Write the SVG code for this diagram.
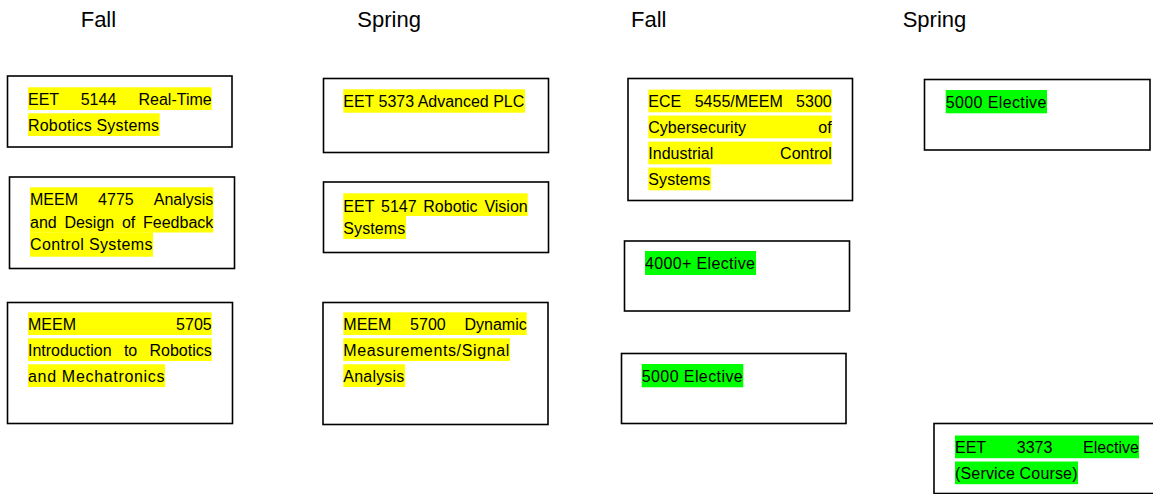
<svg xmlns="http://www.w3.org/2000/svg" width="1153" height="494" viewBox="0 0 1153 494">
<style>
.box{fill:#fff;stroke:#000;stroke-width:1.6}
.t{font-family:"Liberation Sans",Arial,sans-serif;font-size:16px;fill:#000}
.h{font-family:"Liberation Sans",Arial,sans-serif;font-size:22px;fill:#000}
.e{text-anchor:end}
.m{text-anchor:middle}
.y{fill:#ffff00}
.g{fill:#00ff00}
</style>
<rect width="1153" height="494" fill="#fff"/>
<g id="headers">
<text class="h" x="80.7" y="27.3">Fall</text>
<text class="h" x="357.3" y="27.3">Spring</text>
<text class="h" x="631" y="27.3">Fall</text>
<text class="h" x="902.7" y="27.3">Spring</text>
</g>
<g id="connectors"></g>
<g id="eet5144">
<rect class="box" x="7.5" y="76" width="224.5" height="71"/>
<rect class="y" x="28" y="87.3" width="183.7" height="22.7"/>
<rect class="y" x="28" y="113.3" width="131.7" height="22.7"/>
<text class="t" x="28" y="105">EET</text>
<text class="t m" x="98.5" y="105">5144</text>
<text class="t e" x="211.7" y="105">Real-Time</text>
<text class="t" x="28" y="131" textLength="131" lengthAdjust="spacing">Robotics Systems</text>
</g>
<g id="meem4775">
<rect class="box" x="9.5" y="177" width="225" height="91.5"/>
<rect class="y" x="30" y="187.3" width="183.3" height="22.7"/>
<rect class="y" x="30" y="209.8" width="183.3" height="22.7"/>
<rect class="y" x="30" y="232.3" width="123" height="24.4"/>
<text class="t" x="30" y="205">MEEM</text>
<text class="t m" x="115.9" y="205">4775</text>
<text class="t e" x="213.3" y="205">Analysis</text>
<text class="t" x="30" y="227.5">and</text>
<text class="t" x="64.4" y="227.5">Design</text>
<text class="t" x="121.9" y="227.5">of</text>
<text class="t e" x="213.3" y="227.5">Feedback</text>
<text class="t" x="30" y="250" textLength="122.5" lengthAdjust="spacing">Control Systems</text>
</g>
<g id="meem5705">
<rect class="box" x="7.5" y="302.5" width="225" height="121"/>
<rect class="y" x="28" y="312.3" width="183.7" height="22.7"/>
<rect class="y" x="28" y="338.3" width="183.7" height="22.7"/>
<rect class="y" x="28" y="364.3" width="137" height="22.7"/>
<text class="t" x="28" y="330">MEEM</text>
<text class="t e" x="211.7" y="330">5705</text>
<text class="t" x="28" y="356">Introduction</text>
<text class="t" x="123.9" y="356">to</text>
<text class="t e" x="211.7" y="356">Robotics</text>
<text class="t" x="28" y="382" textLength="136.5" lengthAdjust="spacing">and Mechatronics</text>
</g>
<g id="eet5373">
<rect class="box" x="323.5" y="78.5" width="225" height="74"/>
<rect class="y" x="343.3" y="89.3" width="181.7" height="23.4"/>
<text class="t" x="343.3" y="107.3" textLength="181" lengthAdjust="spacing">EET 5373 Advanced PLC</text>
</g>
<g id="eet5147">
<rect class="box" x="323.5" y="182" width="225" height="70.5"/>
<rect class="y" x="343.3" y="193.3" width="184.4" height="22.7"/>
<rect class="y" x="343.3" y="216" width="62.7" height="23"/>
<text class="t" x="343.3" y="211.7">EET</text>
<text class="t" x="381" y="211.7">5147</text>
<text class="t" x="423.3" y="211.7">Robotic</text>
<text class="t e" x="527.7" y="211.7">Vision</text>
<text class="t" x="343.3" y="234" textLength="62" lengthAdjust="spacing">Systems</text>
</g>
<g id="meem5700">
<rect class="box" x="323" y="302.5" width="225" height="122"/>
<rect class="y" x="343.3" y="312.3" width="183.4" height="22.7"/>
<rect class="y" x="343.3" y="338.3" width="166.7" height="22.7"/>
<rect class="y" x="343.3" y="364.3" width="61.7" height="22.7"/>
<text class="t" x="343.3" y="330">MEEM</text>
<text class="t m" x="427.9" y="330">5700</text>
<text class="t e" x="526.7" y="330">Dynamic</text>
<text class="t" x="343.3" y="356" textLength="166" lengthAdjust="spacing">Measurements/Signal</text>
<text class="t" x="343.3" y="382" textLength="61" lengthAdjust="spacing">Analysis</text>
</g>
<g id="ece5455">
<rect class="box" x="628" y="78.5" width="224.5" height="122"/>
<rect class="y" x="648.3" y="89.6" width="183.4" height="22.7"/>
<rect class="y" x="648.3" y="115.6" width="183.4" height="22.7"/>
<rect class="y" x="648.3" y="141.6" width="183.4" height="22.7"/>
<rect class="y" x="648.3" y="167.6" width="62.7" height="22.7"/>
<text class="t" x="648.3" y="107.3">ECE</text>
<text class="t" x="694.7" y="107.3">5455/MEEM</text>
<text class="t e" x="831.7" y="107.3">5300</text>
<text class="t" x="648.3" y="133.3">Cybersecurity</text>
<text class="t e" x="831.7" y="133.3">of</text>
<text class="t" x="648.3" y="159.3">Industrial</text>
<text class="t e" x="831.7" y="159.3">Control</text>
<text class="t" x="648.3" y="185.3" textLength="62" lengthAdjust="spacing">Systems</text>
</g>
<g id="elective4000">
<rect class="box" x="624.5" y="241" width="225" height="70"/>
<rect class="g" x="645" y="251" width="111" height="24"/>
<text class="t" x="645" y="269" textLength="110" lengthAdjust="spacing">4000+ Elective</text>
</g>
<g id="elective5000a">
<rect class="box" x="621.5" y="353.5" width="224.5" height="70"/>
<rect class="g" x="641.7" y="364" width="101.6" height="23.3"/>
<text class="t" x="641.7" y="381.7" textLength="101" lengthAdjust="spacing">5000 Elective</text>
</g>
<g id="elective5000b">
<rect class="box" x="924.5" y="79.5" width="225.5" height="70.5"/>
<rect class="g" x="945.7" y="90" width="101.3" height="23.3"/>
<text class="t" x="945.7" y="108.3" textLength="100.7" lengthAdjust="spacing">5000 Elective</text>
</g>
<g id="eet3373">
<rect class="box" x="934" y="423.5" width="225" height="70"/>
<rect class="g" x="955" y="435.5" width="184" height="22.7"/>
<rect class="g" x="955" y="461.5" width="123" height="22.7"/>
<text class="t" x="955" y="453.3">EET</text>
<text class="t m" x="1034.6" y="453.3">3373</text>
<text class="t e" x="1139" y="453.3">Elective</text>
<text class="t" x="955" y="479.3" textLength="122.5" lengthAdjust="spacing">(Service Course)</text>
</g>
</svg>
